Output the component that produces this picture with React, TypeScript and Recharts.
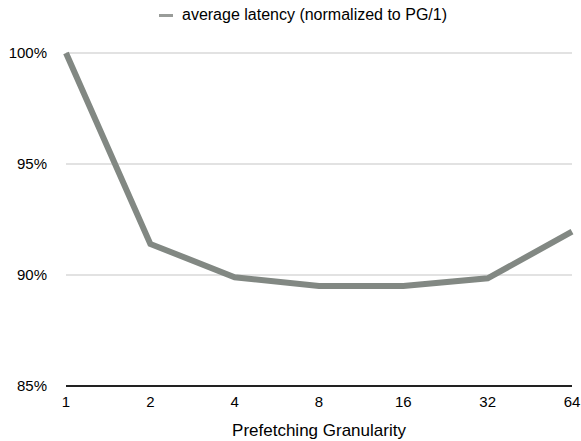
import { CartesianGrid, Legend, Line, LineChart, XAxis, YAxis } from "recharts";

const granularity = ["1", "2", "4", "8", "16", "32", "64"];
const latency = [100, 91.4, 89.9, 89.5, 89.5, 89.85, 91.95];
const yTicks = [85, 90, 95, 100];

const data = granularity.map((g, i) => ({ g, latency: latency[i] }));

const font = "'Liberation Sans', Arial, Helvetica, sans-serif";
const lineColor = "#828883";

function LegendContent() {
  return (
    <div
      style={{
        display: "flex",
        alignItems: "center",
        justifyContent: "center",
        height: 24,
        paddingLeft: 34,
        fontFamily: font,
        fontSize: 16,
        color: "#000"
      }}
    >
      <span
        style={{ display: "inline-block", width: 14, height: 3, background: "#999c99", marginRight: 9 }}
      />
      average latency (normalized to PG/1)
    </div>
  );
}

export default function App() {
  return (
    <div style={{ position: "absolute", top: 0, left: 0, width: 581, height: 441, background: "#fff" }}>
      <LineChart width={581} height={441} data={data} margin={{ top: 29, right: 9, bottom: 0, left: 0 }}>
        <Legend verticalAlign="top" height={24} wrapperStyle={{ top: 3 }} content={<LegendContent />} />
        <CartesianGrid vertical={false} stroke="#d8d8d8" strokeWidth={1.5} />
        <XAxis
          dataKey="g"
          scale="point"
          height={55}
          tickLine={false}
          tickSize={0}
          tickMargin={10}
          axisLine={{ stroke: "#222", strokeWidth: 2 }}
          tick={{ fill: "#000", fontSize: 15, fontFamily: font }}
          label={{
            value: "Prefetching Granularity",
            position: "insideBottom",
            offset: 5,
            fill: "#000",
            fontSize: 17,
            fontFamily: font
          }}
        />
        <YAxis
          domain={[85, 100]}
          ticks={yTicks}
          width={66}
          axisLine={false}
          tickLine={false}
          tickSize={0}
          tickMargin={19}
          tickFormatter={(v: number) => `${v}%`}
          tick={{ fill: "#000", fontSize: 15, fontFamily: font }}
        />
        <Line
          type="linear"
          dataKey="latency"
          stroke={lineColor}
          strokeWidth={6}
          dot={false}
          activeDot={false}
          isAnimationActive={false}
        />
      </LineChart>
    </div>
  );
}
